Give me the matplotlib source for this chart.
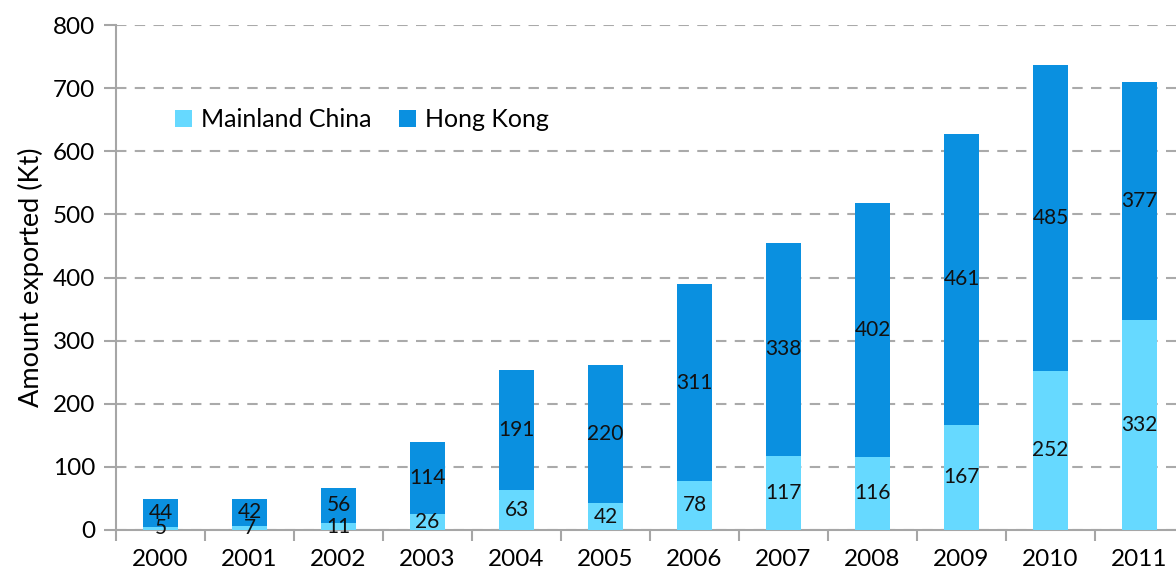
import numpy as np
import matplotlib.pyplot as plt
from matplotlib.ticker import FixedLocator

years = ["2000", "2001", "2002", "2003", "2004", "2005",
         "2006", "2007", "2008", "2009", "2010", "2011"]
mainland = [5, 7, 11, 26, 63, 42, 78, 117, 116, 167, 252, 332]
hong_kong = [44, 42, 56, 114, 191, 220, 311, 338, 402, 461, 485, 377]

plt.rcParams["font.family"] = ["Lato", "DejaVu Sans"]

fig = plt.figure(figsize=(11.76, 5.78), dpi=100)
ax = fig.add_axes([116 / 1176, 48 / 578, 1 - 116 / 1176, 505 / 578])

x = np.arange(len(years))
grey = "#a6a6a6"

# barras empilhadas
b1 = ax.bar(x, mainland, width=0.4, color="#66d9ff", label="Mainland China", zorder=3)
b2 = ax.bar(x, hong_kong, width=0.4, bottom=mainland, color="#0a90e0",
            label="Hong Kong", zorder=3)
ax.bar_label(b1, label_type="center", fontsize=15, color="#111111")
ax.bar_label(b2, label_type="center", fontsize=15, color="#111111")

ax.set_ylim(0, 800)
ax.set_xlim(-0.5, 11.5 - 8 / 89)
ax.set_yticks(range(0, 801, 100))
ax.yaxis.grid(True, linestyle=(0, (5, 4)), color="#aaaaaa", linewidth=1.5, zorder=0)
ax.set_axisbelow(True)

ax.set_xticks(x)
ax.set_xticklabels(years)
ax.xaxis.set_minor_locator(FixedLocator(np.arange(-0.5, 12, 1)))
ax.tick_params(axis="x", which="major", length=0, pad=14, labelsize=17.5)
ax.tick_params(axis="x", which="minor", length=8, width=1.5, color=grey, direction="out")
ax.tick_params(axis="y", length=9, width=1.5, color=grey, labelsize=17.5, pad=6)

for s in ["top", "right"]:
    ax.spines[s].set_visible(False)
for s in ["left", "bottom"]:
    ax.spines[s].set_color(grey)
    ax.spines[s].set_linewidth(1.5)

ax.set_ylabel("Amount exported (Kt)", fontsize=19.5, labelpad=6)

ax.legend(loc="upper left", bbox_to_anchor=(0.034, 0.88), ncol=2, frameon=False,
          fontsize=18, handlelength=0.7, handleheight=0.7, handletextpad=0.35,
          columnspacing=1.1)

fig.savefig("out.png", dpi=100)
